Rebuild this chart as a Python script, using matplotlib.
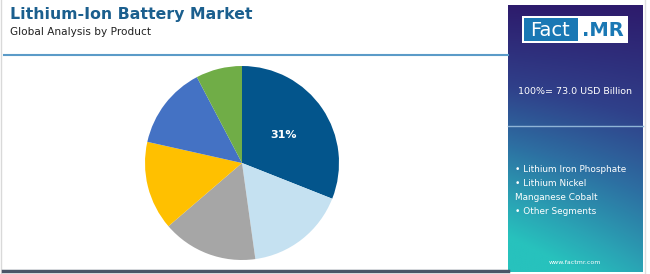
import matplotlib.pyplot as plt
import numpy as np
from matplotlib.patches import Rectangle
from matplotlib.colors import LinearSegmentedColormap

# data
segments = ["Lithium Iron Phosphate", "Lithium Nickel Manganese Cobalt", "Segment 3",
            "Segment 4", "Segment 5", "Segment 6"]
shares = [31.0, 16.8, 15.9, 14.8, 13.8, 7.7]
colors = ["#03558c", "#c5e1f1", "#a6a6a6", "#ffc000", "#4472c4", "#70ad47"]
shown_labels = ["31%", "", "", "", "", ""]

title = "Lithium-Ion Battery Market"
subtitle = "Global Analysis by Product"
total_text = "100%= 73.0 USD Billion"
bullet_lines = ["• Lithium Iron Phosphate", "• Lithium Nickel", "Manganese Cobalt", "• Other Segments"]

W, H = 650, 274
fig = plt.figure(figsize=(W / 100, H / 100), dpi=100)
fig.patch.set_facecolor("white")

# background overlay axes in pixel space (top-left origin)
bg = fig.add_axes([0, 0, 1, 1])
bg.axis("off")

# frame lines
bg.plot([1, 1], [0, H], color="#d9d9d9", lw=1)
bg.plot([4, 508], [54.5, 54.5], color="#5b9bc8", lw=1.5)
bg.plot([3, 508], [271, 271], color="#4a5568", lw=2.5)
bg.plot([645, 645], [0, H], color="#e0e0e0", lw=1)

# title texts
bg.text(10, 14, title, fontsize=11.3, fontweight="bold", color="#1b5f8e", va="center", ha="left")
bg.text(10, 32, subtitle, fontsize=7.6, color="#222222", va="center", ha="left")

# right gradient panel
x0, x1, y0, y1 = 508, 643, 5, 272
gx, gy = np.meshgrid(np.linspace(0, 1, 200), np.linspace(0, 1, 400))
t = np.clip(gy * (0.85 + 0.3 * (1 - gx)), 0, 1)
cmap = LinearSegmentedColormap.from_list(
    "panel", [(0, "#2d1b6c"), (0.35, "#30408a"), (0.6, "#2d6fa2"), (0.85, "#2aa5b5"), (1, "#27c2bd")])
bg.imshow(t, cmap=cmap, extent=[x0, x1, y1, y0], aspect="auto", zorder=1, vmin=0, vmax=1)
bg.set_xlim(0, W)
bg.set_ylim(H, 0)

# logo
bg.add_patch(Rectangle((522, 16), 106, 27, facecolor="white", edgecolor="none", zorder=2))
bg.add_patch(Rectangle((524, 18), 54, 23, facecolor="#1a78b4", edgecolor="none", zorder=3))
bg.text(550, 30, "Fact", fontsize=14, color="white", ha="center", va="center", zorder=4)
bg.text(603, 30, ".MR", fontsize=14, color="#1a78b4", fontweight="bold", ha="center", va="center", zorder=4)

bg.text(575, 92, total_text, fontsize=6.8, color="white", ha="center", va="center", zorder=4)
bg.plot([x0, x1], [126, 126], color="#8fb4d6", lw=1, zorder=4)
for i, line in enumerate(bullet_lines):
    bg.text(515, 170 + i * 13.7, line, fontsize=6.4, color="white", ha="left", va="center", zorder=4)
bg.text(575, 263, "www.factmr.com", fontsize=4.5, color="white", ha="center", va="center", zorder=4)

# pie
cx, cy, r = 242, 163, 97
ax = fig.add_axes([(cx - r) / W, (H - cy - r) / H, 2 * r / W, 2 * r / H])
wedges, texts, autotexts = ax.pie(
    shares, colors=colors, startangle=90, counterclock=False,
    autopct="%1.0f%%", pctdistance=0.52,
    textprops=dict(color="white", fontsize=8, fontweight="bold"),
)
for at, lab in zip(autotexts, shown_labels):
    at.set_text(lab)
ax.set_xlim(-1, 1)
ax.set_ylim(-1, 1)
ax.set_aspect("equal")

fig.savefig("out.png", dpi=100)
